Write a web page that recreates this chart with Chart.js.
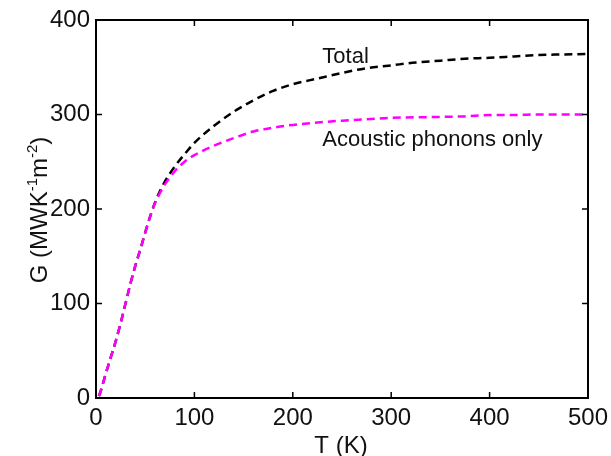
<!DOCTYPE html>
<html>
<head>
<meta charset="utf-8">
<script src="https://cdn.jsdelivr.net/npm/chart.js@4/dist/chart.umd.min.js"></script>
<style>
  html, body { margin: 0; padding: 0; background: #fff; }
  #wrap { width: 611px; height: 456px; }
</style>
</head>
<body>
<div id="wrap"><canvas id="chart"></canvas></div>
<script>
// temperature (K)
const temps = [3, 5, 10, 15, 20, 25, 30, 35, 40, 45, 50, 55, 60, 65, 70, 80, 90, 100, 120, 140, 160, 180, 200, 225, 250, 275, 300, 325, 350, 375, 400, 425, 450, 475, 500];
// G, all phonons (MW K^-1 m^-2)
const totalG = [2, 8, 26, 43, 60, 79, 100, 121, 140, 157, 175, 192, 207, 219, 229, 245, 258, 270, 288, 303, 315, 325, 332, 338, 344, 349, 352, 355, 357, 359, 360, 361.5, 363, 363.5, 364];
// G, acoustic phonons only
const acousticG = [2, 8, 26, 43, 60, 79, 100, 121, 140, 157, 175, 192, 206, 217, 226, 240, 250, 257, 267, 275, 282, 286, 289, 291.5, 293.5, 295, 296.5, 297, 297.5, 298, 299.5, 299.5, 300, 300, 300];
const xTicks = [0, 100, 200, 300, 400, 500];
const yTicks = [0, 100, 200, 300, 400];

const toPoints = (ys) => temps.map((t, i) => ({ x: t, y: ys[i] }));

const FONT = 'Liberation Sans, Arial, sans-serif';

// box, inward ticks, axis titles and curve labels
const decorations = {
    id: 'decorations',
    afterDraw(chart) {
        const { ctx, chartArea: a, scales: { x, y } } = chart;
        ctx.save();
        ctx.strokeStyle = '#000';
        ctx.lineWidth = 2;
        ctx.strokeRect(a.left, a.top, a.right - a.left, a.bottom - a.top);

        ctx.lineWidth = 1.5;
        ctx.beginPath();
        xTicks.forEach(v => {
            const px = x.getPixelForValue(v);
            ctx.moveTo(px, a.bottom); ctx.lineTo(px, a.bottom - 6);
            ctx.moveTo(px, a.top); ctx.lineTo(px, a.top + 6);
        });
        yTicks.forEach(v => {
            const py = y.getPixelForValue(v);
            ctx.moveTo(a.left, py); ctx.lineTo(a.left + 6, py);
            ctx.moveTo(a.right, py); ctx.lineTo(a.right - 6, py);
        });
        ctx.stroke();

        ctx.fillStyle = '#111';
        // x title
        ctx.font = '24px ' + FONT;
        ctx.textAlign = 'center';
        ctx.textBaseline = 'alphabetic';
        ctx.fillText('T (K)', 341, 453);

        // y title with superscripts
        ctx.translate(47, 210);
        ctx.rotate(-Math.PI / 2);
        const parts = [['G (MWK', 0], ['-1', 1], ['m', 0], ['-2', 1], [')', 0]];
        const width = parts.reduce((s, [t, sup]) => {
            ctx.font = (sup ? '15px ' : '24px ') + FONT;
            return s + ctx.measureText(t).width;
        }, 0);
        let cx = -width / 2;
        ctx.textAlign = 'left';
        parts.forEach(([t, sup]) => {
            ctx.font = (sup ? '15px ' : '24px ') + FONT;
            ctx.fillText(t, cx, sup ? -10 : 0);
            cx += ctx.measureText(t).width;
        });
        ctx.restore();

        ctx.save();
        ctx.fillStyle = '#111';
        ctx.font = '22px ' + FONT;
        ctx.textAlign = 'left';
        ctx.textBaseline = 'middle';
        ctx.fillText('Total', x.getPixelForValue(230), y.getPixelForValue(361));
        ctx.fillText('Acoustic phonons only', x.getPixelForValue(230), y.getPixelForValue(273));
        ctx.restore();
    }
};

new Chart(document.getElementById('chart'), {
    type: 'line',
    data: {
        datasets: [{
            label: 'Acoustic phonons only',
            data: toPoints(acousticG),
            borderColor: '#ff00ff',
            borderWidth: 2.5,
            borderDash: [8, 5],
            pointRadius: 0,
            cubicInterpolationMode: 'monotone',
            fill: false
        }, {
            label: 'Total',
            data: toPoints(totalG),
            borderColor: '#000000',
            borderWidth: 2.5,
            borderDash: [8, 5],
            pointRadius: 0,
            cubicInterpolationMode: 'monotone',
            fill: false
        }]
    },
    options: {
        responsive: true,
        maintainAspectRatio: false,
        animation: false,
        layout: { padding: { left: 0, top: 20, right: 23, bottom: 0 } },
        plugins: {
            legend: { display: false },
            tooltip: { enabled: false }
        },
        scales: {
            x: {
                type: 'linear',
                min: 0,
                max: 500,
                grid: { display: false, drawTicks: false },
                border: { display: false },
                afterBuildTicks: (s) => { s.ticks = xTicks.map(v => ({ value: v })); },
                afterFit: (s) => { s.height = 58; s.paddingLeft = 0; s.paddingRight = 0; },
                ticks: {
                    color: '#111',
                    padding: 6,
                    maxRotation: 0,
                    font: { family: FONT, size: 24 }
                }
            },
            y: {
                min: 0,
                max: 400,
                grid: { display: false, drawTicks: false },
                border: { display: false },
                afterBuildTicks: (s) => { s.ticks = yTicks.map(v => ({ value: v })); },
                afterFit: (s) => { s.width = 96; s.paddingTop = 0; s.paddingBottom = 0; },
                ticks: {
                    color: '#111',
                    padding: 6,
                    font: { family: FONT, size: 24 }
                }
            }
        }
    },
    plugins: [decorations]
});
</script>
</body>
</html>
